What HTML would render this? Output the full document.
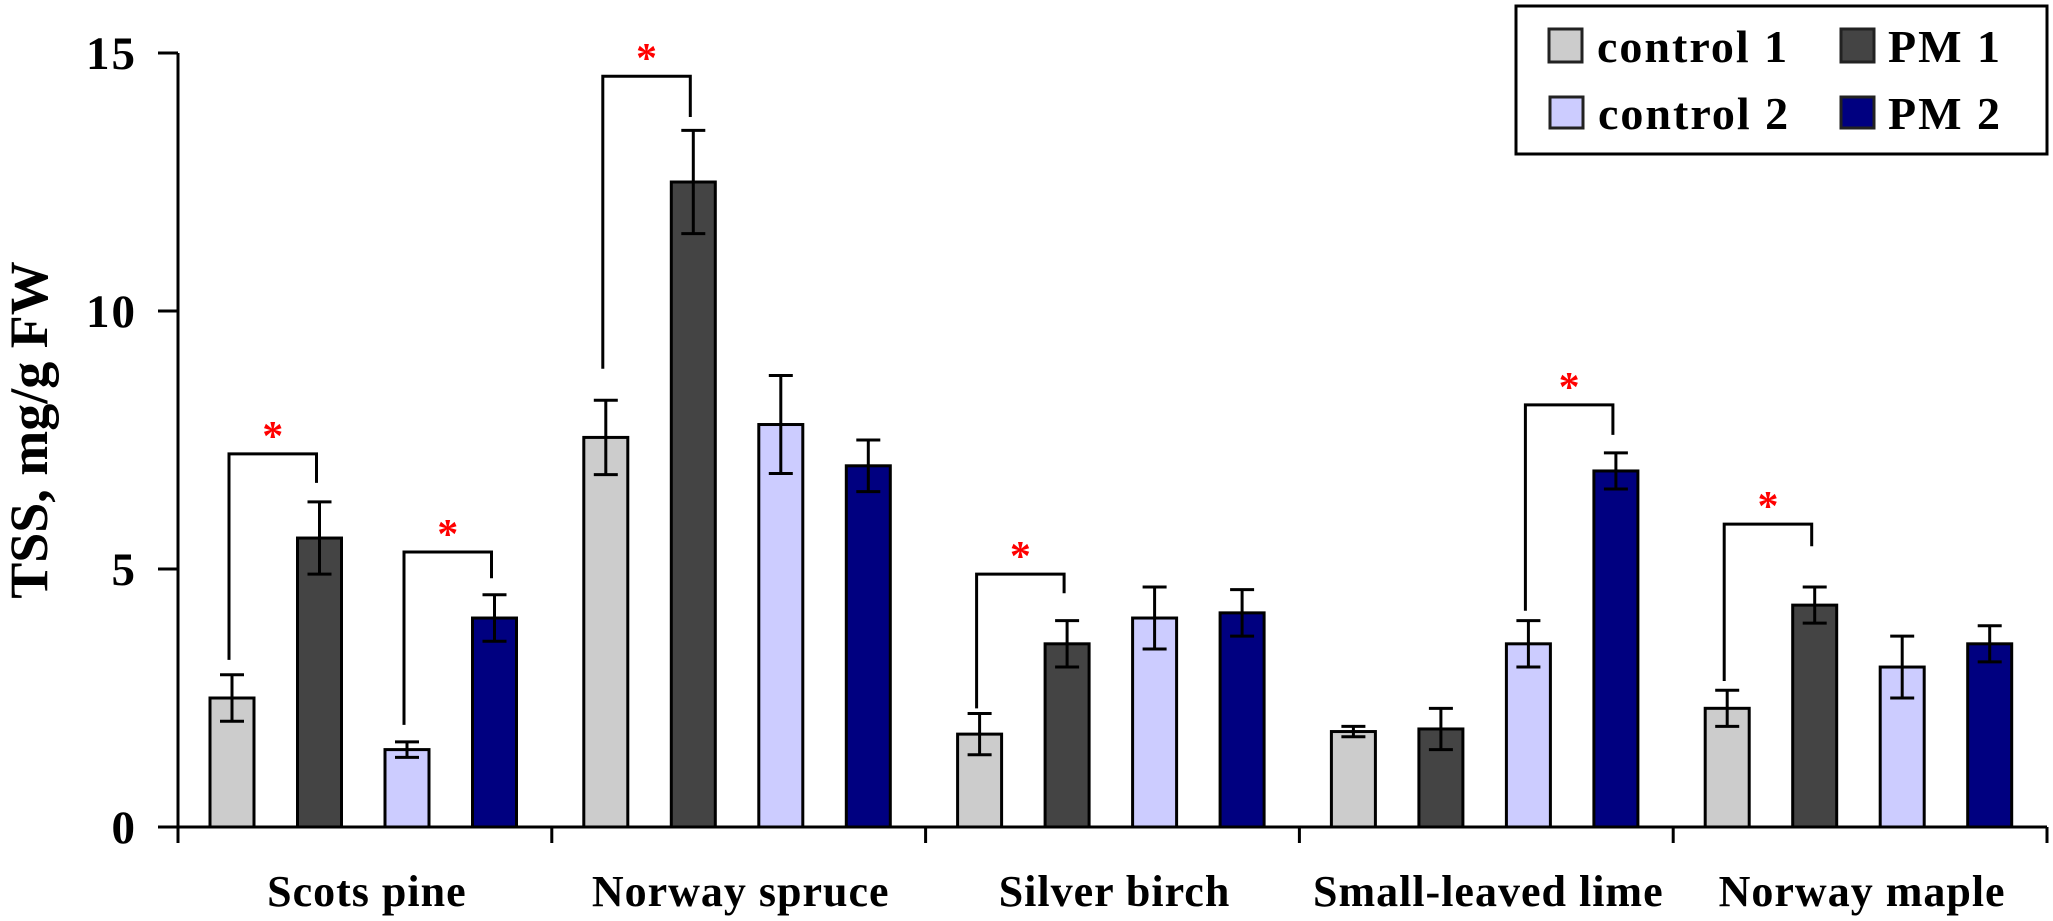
<!DOCTYPE html>
<html><head><meta charset="utf-8"><style>
html,body{margin:0;padding:0;background:#fff;}
svg{display:block;font-family:"Liberation Serif",serif;font-weight:bold;}
</style></head><body>
<svg id="chart" width="2053" height="921" viewBox="0 0 2053 921" xmlns="http://www.w3.org/2000/svg">
<g id="axes"></g>
<g id="bars"></g>
<g id="brackets"></g>
<text x="0" y="0" font-size="54" text-anchor="middle" transform="translate(47,430) rotate(-90)">TSS, mg/g FW</text>
<g>
<rect x="1516" y="6" width="531" height="148" fill="#fff" stroke="#000" stroke-width="3"/>
<g><rect x="1549" y="29" width="33" height="33" fill="#cccccc" stroke="#222" stroke-width="3"/><text x="1597" y="62" font-size="46" letter-spacing="2">control 1</text></g>
<g><rect x="1841" y="29" width="33" height="33" fill="#444444" stroke="#222" stroke-width="3"/><text x="1888" y="62" font-size="46" letter-spacing="2">PM 1</text></g>
<g><rect x="1550" y="97" width="33" height="31" fill="#ccccff" stroke="#222" stroke-width="3"/><text x="1598" y="129" font-size="46" letter-spacing="2">control 2</text></g>
<g><rect x="1841" y="97" width="33" height="31" fill="#000080" stroke="#222" stroke-width="3"/><text x="1888" y="129" font-size="46" letter-spacing="2">PM 2</text></g>
</g>
</svg>
<script>
const categories = ["Scots pine","Norway spruce","Silver birch","Small-leaved lime","Norway maple"];
const seriesNames = ["control 1","PM 1","control 2","PM 2"];
const control1 = [2.5, 7.55, 1.8, 1.85, 2.3];
const pm1 = [5.6, 12.5, 3.55, 1.9, 4.3];
const control2 = [1.5, 7.8, 4.05, 3.55, 3.1];
const pm2 = [4.05, 7.0, 4.15, 6.9, 3.55];
const control1Err = [0.45, 0.72, 0.4, 0.1, 0.35];
const pm1Err = [0.7, 1.0, 0.45, 0.4, 0.35];
const control2Err = [0.15, 0.95, 0.6, 0.45, 0.6];
const pm2Err = [0.45, 0.5, 0.45, 0.35, 0.35];
const yTicks = [0, 5, 10, 15];
// brackets: [categoryIndex, seriesA, seriesB, bracketValue, leftEndValue, rightEndValue]
const brackets = [[0,0,1,7.23,3.24,6.67],[0,2,3,5.33,1.98,4.82],[1,0,1,14.55,8.88,13.76],[2,0,1,4.9,2.3,4.53],[3,2,3,8.18,4.19,7.6],[4,0,1,5.87,2.83,5.44]];

const NS="http://www.w3.org/2000/svg";
const X0=178, GW=373.8, Y0=827, PXU=51.6;
const colors=["#cccccc","#444444","#ccccff","#000080"];
const vals=[control1,pm1,control2,pm2], errs=[control1Err,pm1Err,control2Err,pm2Err];
const yS=v=>Y0-v*PXU;
const barX=(c,s)=>X0+c*GW+32+s*87.5;
const BW=44;
function mk(tag,attrs,parent){const e=document.createElementNS(NS,tag);for(const k in attrs)e.setAttribute(k,attrs[k]);parent.appendChild(e);return e;}
const axes=document.getElementById('axes'), bars=document.getElementById('bars'), br=document.getElementById('brackets');
const ya=mk('line',{x1:X0,y1:yS(15),x2:X0,y2:Y0+16,stroke:'#000','stroke-width':3},axes);


const xa=mk('line',{x1:X0-20,y1:Y0,x2:X0+5*GW,y2:Y0,stroke:'#000','stroke-width':3},axes);


yTicks.forEach(t=>{
  const l=mk('line',{x1:X0-20,y1:yS(t),x2:X0,y2:yS(t),stroke:'#000','stroke-width':3},axes);
  
  
  const tx=mk('text',{x:137,y:yS(t)+16,'font-size':47,'text-anchor':'end','letter-spacing':2},axes);
  tx.textContent=t;
  
  
});
for(let c=0;c<=categories.length;c++){
  const l=mk('line',{x1:X0+c*GW,y1:Y0,x2:X0+c*GW,y2:Y0+16,stroke:'#000','stroke-width':3},axes);
  
  
}
categories.forEach((name,c)=>{
  const tx=mk('text',{x:X0+c*GW+GW/2+2,y:906,'font-size':44,'text-anchor':'middle','letter-spacing':1},axes);
  tx.textContent=name;
  
  
});
categories.forEach((name,c)=>{
  vals.forEach((arr,s)=>{
    const x=barX(c,s), v=arr[c], e=errs[s][c];
    const r=mk('rect',{x:x,y:yS(v),width:BW,height:Y0-yS(v),fill:colors[s],stroke:'#000','stroke-width':3},bars);
    
    
    const cx=x+BW/2;
    const g=mk('g',{stroke:'#000','stroke-width':3},bars);
    
    
    mk('line',{x1:cx,y1:yS(v+e),x2:cx,y2:yS(v-e)},g);
    mk('line',{x1:cx-12,y1:yS(v+e),x2:cx+12,y2:yS(v+e)},g);
    mk('line',{x1:cx-12,y1:yS(v-e),x2:cx+12,y2:yS(v-e)},g);
  });
});
brackets.forEach(b=>{
  const xa=barX(b[0],b[1])+BW/2-3, xb=barX(b[0],b[2])+BW/2-3;
  const p=mk('path',{d:`M${xa},${yS(b[4])} V${yS(b[3])} H${xb} V${yS(b[5])}`,fill:'none',stroke:'#000','stroke-width':3},br);
  
  
  const t=mk('text',{x:(xa+xb)/2,y:yS(b[3])-4,'font-size':42,fill:'#ff0000','text-anchor':'middle'},br);
  t.textContent='*';
  
  
});
</script>
</body></html>
